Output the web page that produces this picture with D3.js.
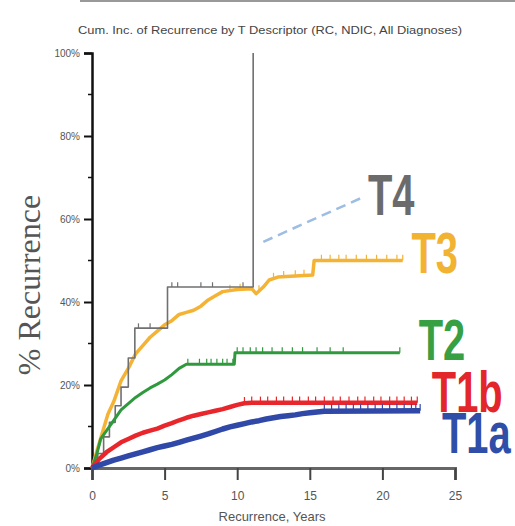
<!DOCTYPE html>
<html>
<head>
<meta charset="utf-8">
<script src="https://cdn.jsdelivr.net/npm/d3@7"></script>
<style>
  body { margin: 0; background: #fff; }
  svg { display: block; }
</style>
</head>
<body>
<div id="graf"></div>
<script>
// --- data (years, % recurrence) ---
const yTicks = [0, 20, 40, 60, 80, 100]
const yMinor = [10, 30, 50, 70, 90]
const xTicks = [0, 5, 10, 15, 20, 25]

const t1aData = [[0,0],[0.5,0.7],[1,1.3],[1.5,1.9],[2,2.4],[2.5,2.9],[3,3.4],[3.5,3.9],[4,4.4],[4.5,4.9],[5,5.3],[5.5,5.7],[6,6.2],[6.5,6.7],[7,7.2],[7.5,7.7],[8,8.2],[8.5,8.8],[9,9.4],[9.5,9.9],[10,10.3],[10.5,10.7],[11,11.1],[11.5,11.4],[12,11.8],[12.5,12.1],[13,12.4],[13.5,12.6],[14,12.8],[14.5,13.1],[15,13.3],[15.5,13.5],[16,13.7],[22.6,13.8]]
const t1bData = [[0,0],[0.5,2.2],[1,3.8],[1.5,5],[2,6.2],[2.5,7],[3,7.8],[3.5,8.5],[4,9],[4.5,9.5],[5,10.2],[5.5,10.8],[6,11.5],[6.5,12.1],[7,12.6],[7.5,13],[8,13.4],[8.5,13.8],[9,14.2],[9.5,14.7],[10,15.2],[10.5,15.6],[11,15.7],[22.4,15.7]]
const t2Data = [[0,0],[0.3,3],[0.6,7],[1,9],[1.5,11.5],[2,14],[2.5,15.5],[3,17],[3.5,18.2],[4,19.3],[4.5,20.2],[5,21.2],[5.5,22.5],[6,24],[6.5,25],[9.8,25],[9.85,27.8],[21.2,27.8]]
const t3Data = [[0,0],[0.25,3],[0.5,6],[0.8,9.5],[1.1,13],[1.5,16],[2,21],[2.5,24],[3,27.5],[3.5,29.5],[4,31.5],[4.5,33],[5,34.5],[5.5,35.5],[6,37],[6.5,37.5],[7,38],[7.5,39],[8,40.5],[8.5,41.5],[9,42.5],[10,43],[11,43.2],[11.3,42],[11.8,43.6],[12.2,45.3],[12.8,46],[15.2,46.5],[15.3,50],[21.4,50]]
const t4Data = [[0,0],[0.4,3.5],[0.8,7.5],[1.2,11],[1.6,15],[2,19.5],[2.5,26.5],[2.95,33.7],[5.2,43.6],[11.1,100]]
const t4Dashed = [[11.8,54.5],[18.5,65]]

const t1aCensor = [16,16.5,17,17.5,18,18.5,19,19.5,20,20.5,21,21.5,22,22.3,22.6]
const t1bCensor = [10.5,11,11.6,12.1,12.7,13.2,13.8,14.3,14.9,15.4,16,16.6,17.1,17.7,18.3,18.8,19.4,19.9,20.5,21,21.5,22,22.4]
const t2Censor = [6.6,7.4,7.9,8.2,8.6,9,9.3,9.7,10,10.4,10.9,11.3,11.75,12.4,13.1,13.8,14.5,15.5,16.4,17.3,21.2]
const t3Censor = [9.5,10.2,11.5,12.5,13.2,14,14.6,15.8,16.4,17,17.5,18.2,18.9,19.6,20.3,21,21.4]
const t4Censor = [3.2,4,5.5,5.9,7.5,8.3,10.4]

// label anchor (years, %)
const labels = [
  {name: "T4",  at: [19, 61],    color: "#6b6b6b"},
  {name: "T3",  at: [22, 47],    color: "#f2b232"},
  {name: "T2",  at: [22.5, 26],  color: "#36a043"},
  {name: "T1b", at: [23.4, 13.5], color: "#e3262a"},
  {name: "T1a", at: [24.1, 3.6], color: "#2e4ea8"}
]

const series = [
  {data: t3Data, censor: t3Censor, color: "#f5b335", w: 3.5, step: false},
  {data: t4Data, censor: t4Censor, color: "#707070", w: 1.6, step: true},
  {data: t2Data, censor: t2Censor, color: "#2f9a3d", w: 3, step: false},
  {data: t1bData, censor: t1bCensor, color: "#e8262b", w: 4.5, step: false},
  {data: t1aData, censor: t1aCensor, color: "#3049a8", w: 5.5, step: false}
]

const width = 515, height = 526
const margin = {top: 53, right: 60, bottom: 58, left: 92}

const x = d3.scaleLinear().domain([0, 25]).range([margin.left, width - margin.right])
const y = d3.scaleLinear().domain([0, 100]).range([height - margin.bottom, margin.top])

const svg = d3.select("#graf").append("svg")
    .attr("width", width).attr("height", height)
    .attr("viewBox", [0, 0, width, height])

// top rule + title
svg.append("line")
    .attr("x1", 80).attr("x2", width).attr("y1", 1).attr("y2", 1)
    .attr("stroke", "#999").attr("stroke-width", 2)

svg.append("text")
    .attr("x", 78).attr("y", 34)
    .attr("font-family", "Liberation Sans, Arial, sans-serif")
    .attr("font-size", 10.5).attr("fill", "#444")
    .attr("textLength", 384).attr("lengthAdjust", "spacingAndGlyphs")
    .text("Cum. Inc. of Recurrence by T Descriptor (RC, NDIC, All Diagnoses)")

// axes
const yAxis = svg.append("g")
    .attr("transform", `translate(${margin.left},0)`)
    .call(d3.axisLeft(y).tickValues(yTicks).tickFormat(d => d + "%").tickSize(8).tickPadding(4))
yAxis.select(".domain").attr("stroke", "#111").attr("stroke-width", 2.5)
yAxis.selectAll(".tick line").attr("stroke", "#111").attr("stroke-width", 2)
yAxis.selectAll(".tick text").attr("font-size", 10).attr("fill", "#555")
    .attr("font-family", "Liberation Sans, Arial, sans-serif")

svg.append("g").selectAll("line").data(yMinor).join("line")
    .attr("x1", margin.left - 4).attr("x2", margin.left)
    .attr("y1", d => y(d)).attr("y2", d => y(d))
    .attr("stroke", "#111").attr("stroke-width", 1.5)

const xAxis = svg.append("g")
    .attr("transform", `translate(0,${height - margin.bottom})`)
    .call(d3.axisBottom(x).tickValues(xTicks).tickSize(12).tickPadding(11))
xAxis.select(".domain").attr("stroke", "#666").attr("stroke-width", 3)
xAxis.selectAll(".tick line").attr("stroke", "#444").attr("stroke-width", 2)
xAxis.selectAll(".tick text").attr("font-size", 12).attr("fill", "#555")
    .attr("font-family", "Liberation Sans, Arial, sans-serif")

svg.append("text")
    .attr("x", 272).attr("y", 521).attr("text-anchor", "middle")
    .attr("font-family", "Liberation Sans, Arial, sans-serif")
    .attr("font-size", 13).attr("fill", "#555")
    .text("Recurrence, Years")

svg.append("text")
    .attr("transform", "translate(40,285) rotate(-90)")
    .attr("text-anchor", "middle")
    .attr("font-family", "Liberation Serif, Times New Roman, serif")
    .attr("font-size", 32).attr("fill", "#555")
    .text("% Recurrence")

// curves
const lineStep = d3.line().x(d => x(d[0])).y(d => y(d[1])).curve(d3.curveStepAfter)
const lineLin = d3.line().x(d => x(d[0])).y(d => y(d[1]))

const valueAt = (data, t, step) => {
  const i = d3.bisector(d => d[0]).right(data, t) - 1
  if (i < 0) return 0
  if (step || i >= data.length - 1) return data[i][1]
  const a = data[i], b = data[i + 1]
  return a[1] + (b[1] - a[1]) * (t - a[0]) / (b[0] - a[0])
}

series.forEach(s => {
  svg.append("path")
      .attr("fill", "none")
      .attr("stroke", s.color)
      .attr("stroke-width", s.w)
      .attr("stroke-linejoin", "round")
      .attr("d", (s.step ? lineStep : lineLin)(s.data))
  svg.append("g").selectAll("line").data(s.censor).join("line")
      .attr("x1", d => x(d)).attr("x2", d => x(d))
      .attr("y1", d => y(valueAt(s.data, d, s.step)))
      .attr("y2", d => y(valueAt(s.data, d, s.step)) - s.w / 2 - 4)
      .attr("stroke", s.color).attr("stroke-width", 1.2)
})

svg.append("path")
    .attr("fill", "none")
    .attr("stroke", "#9dbde2")
    .attr("stroke-width", 2.5)
    .attr("stroke-dasharray", "10,6")
    .attr("d", lineLin(t4Dashed))

// series labels
svg.append("g").selectAll("text").data(labels).join("text")
    .attr("transform", d => `translate(${x(d.at[0])},${y(d.at[1])}) scale(0.7,1)`)
    .attr("font-family", "Liberation Sans, Arial, sans-serif")
    .attr("font-weight", "bold")
    .attr("font-size", 57)
    .attr("fill", d => d.color)
    .text(d => d.name)
</script>
</body>
</html>
